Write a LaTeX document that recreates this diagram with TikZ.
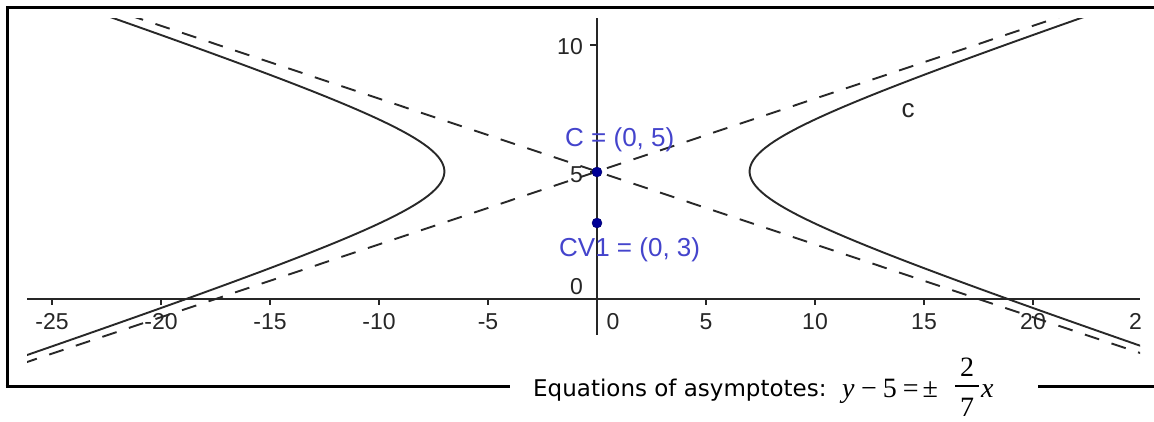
\documentclass[tikz,border=0pt]{standalone}
\usepackage{fontspec}
\setmainfont{Liberation Sans}
\newfontfamily\eqfont{DejaVu Sans}
\newfontfamily\tms{Liberation Serif}
\definecolor{ptblue}{RGB}{0,0,150}
\definecolor{lblblue}{RGB}{68,68,204}
\definecolor{curvecol}{RGB}{40,40,40}
\tikzset{
  frame/.style={line width=3pt, black},
  axisline/.style={line width=1.5pt, black!85},
  hyp/.style={line width=1.9pt, curvecol},
  asym/.style={line width=1.9pt, curvecol, dash pattern=on 15pt off 13pt},
  ticklbl/.style={font=\fontsize{23}{23}\selectfont, text=black!85, inner sep=0},
  ptlbl/.style={font=\fontsize{26}{26}\selectfont, text=lblblue, inner sep=0},
  ptdot/.style={circle, fill=ptblue, draw=ptblue!70!black, inner sep=0, minimum size=10pt},
  mathtxt/.style={font=\tms\fontsize{28}{28}\selectfont, inner sep=0},
  fracbar/.style={line width=1.8pt, black},
}
\begin{document}
\begin{tikzpicture}[x=1pt,y=-1pt]
\useasboundingbox[fill=white] (0,0) rectangle (1154,421);
% frame
\draw[frame] (7,386) -- (7,7) -- (1156,7);
\draw[frame] (5.5,386) -- (510,386);
\draw[frame] (1038,386) -- (1156,386);
% plot
\begin{scope}
  \clip (27,18) rectangle (1140,368);
  \begin{scope}[shift={(597,299)}, x=21.8pt, y=25.5pt]
    \draw[hyp] plot[domain=-5:15, samples=160, variable=\t] ({7*sqrt(1+((\t-5)/2)^2)}, \t);
    \draw[hyp] plot[domain=-5:15, samples=160, variable=\t] ({-7*sqrt(1+((\t-5)/2)^2)}, \t);
    \draw[asym] (-30,{5+60/7}) -- (30,{5-60/7});
    \draw[asym] (-30,{5-60/7}) -- (30,{5+60/7});
  \end{scope}
  \draw[axisline] (27,299) -- (1140,299);
  \draw[axisline] (597,18) -- (597,335);
  \foreach \X in {-25,-20,...,25} {
    \ifnum\X=0\relax\else
      \draw[axisline] ({597+21.8*\X},299) -- ({597+21.8*\X},305);
    \fi
  }
  \foreach \X [count=\k] in {-25,-20,-15,-10,-5,5,10,15,20,25} {
    \node[ticklbl] (xl\k) at ({597+21.8*\X},322) {\X};
  }
  \node[ticklbl] (xl0) at (613,322) {0};
  \draw[axisline] (590,45) -- (597,45);
  \draw[axisline] (590,172) -- (597,172);
  \node[ticklbl, anchor=east] (yl10) at (583,47) {10};
  \node[ticklbl, anchor=east] (yl5) at (583,175) {5};
  \node[ticklbl, anchor=east] (yl0) at (583,287) {0};
  \node[font=\fontsize{26}{26}\selectfont, text=black!85, inner sep=0] (clbl) at (908,111) {c};
  \node[ptdot] (C) at (597,172) {};
  \node[ptdot] (CV) at (597,223) {};
  \node[ptlbl, anchor=west] (Clbl) at (565,140) {C = (0, 5)};
  \node[ptlbl, anchor=west] (CVlbl) at (559,250) {CV1 = (0, 3)};
\end{scope}
% equation
\node[font=\eqfont\fontsize{23}{23}\selectfont, anchor=base west, inner sep=0] (eqtxt) at (533,396) {Equations of asymptotes:};
\node[mathtxt, anchor=base west] (eqlhs) at (842,397) {\textit{y}\hspace{6.5pt}−\hspace{6pt}5\hspace{6pt}=\hspace{4pt}±};
\node[mathtxt, anchor=base] (num) at (967,376) {2};
\node[mathtxt, anchor=base] (den) at (967,416) {7};
\path (num.south) ++(-12,10) coordinate (barL) ++(24,0) coordinate (barR);
\draw[fracbar] (barL) -- (barR);
\node[mathtxt, anchor=base west] (xv) at (981,397) {\textit{x}};
\end{tikzpicture}
\end{document}
